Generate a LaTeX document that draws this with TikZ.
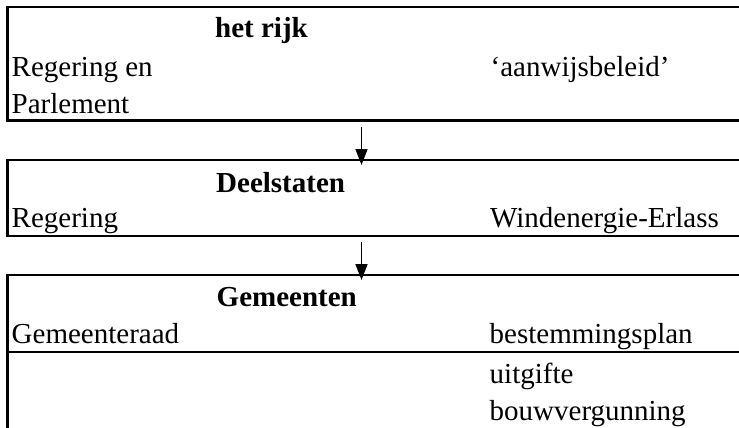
\documentclass[tikz,border=0pt]{standalone}
\usepackage{fontspec}
\setmainfont{Liberation Serif}
\usetikzlibrary{arrows.meta}
\begin{document}
\begin{tikzpicture}[x=1pt,y=-1pt,
  rule/.style={line width=2.8pt},
  flow/.style={line width=1.6pt,-{Triangle[length=16pt,width=12pt]}},
  txt/.style={anchor=base west,inner sep=0pt,font=\fontsize{29}{34}\selectfont},
  head/.style={txt,font=\fontsize{29}{34}\selectfont\bfseries}]
\useasboundingbox (0,0) rectangle (739,428);
% box 1
\draw[rule] (739,7) -- (7.5,7) -- (7.5,120.5) -- (739,120.5);
% box 2
\draw[rule] (739,160) -- (7.5,160) -- (7.5,236) -- (739,236);
% box 3
\draw[rule] (739,275) -- (7.5,275) -- (7.5,428);
\draw[rule] (7.5,352) -- (739,352);
% texts
\node[head] (rijk) at (215,37.7) {het rijk};
\node[txt] (rp1) at (11.5,76.7) {Regering en};
\node[txt] (rp2) at (11.5,113) {Parlement};
\node[txt] (aw) at (490.5,76.7) {‘aanwijsbeleid’};
\node[head] (ds) at (216,192) {Deelstaten};
\node[txt] (reg) at (11.5,227) {Regering};
\node[txt] (we) at (490,227) {Windenergie-Erlass};
\node[head] (gm) at (216.5,306.7) {Gemeenten};
\node[txt] (gr) at (11.5,343) {Gemeenteraad};
\node[txt] (bp) at (489.5,343) {bestemmingsplan};
\node[txt] (ug) at (489.5,383) {uitgifte};
\node[txt] (bv) at (489.5,420) {bouwvergunning};
% connectors
\coordinate (a1s) at (361.5,127);
\coordinate (a1e) at (361.5,165);
\coordinate (a2s) at (361.5,242);
\coordinate (a2e) at (361.5,280);
\draw[flow] (a1s) -- (a1e);
\draw[flow] (a2s) -- (a2e);
\end{tikzpicture}
\end{document}
